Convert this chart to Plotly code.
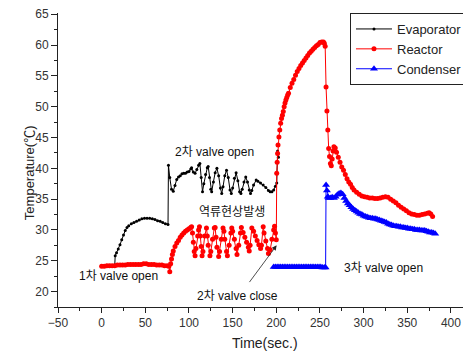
import plotly.graph_objects as go

# ---------------- data ----------------
evap_t = [15, 15.5, 17, 19, 21, 23, 25, 27, 29, 31, 34, 37, 40, 43, 46, 49, 52, 55, 58, 61, 64, 67, 70, 73, 76,
          76.5, 78, 80, 82, 84, 86, 88, 90, 92, 94, 96, 98, 100, 102, 103, 105, 107, 109, 111, 112.5,
          114, 115.5, 117, 119, 121, 122, 123.5, 125, 126, 128, 130, 132, 134, 136, 137.5, 139, 141, 143,
          145, 147, 148.5, 150, 152, 154, 156, 158, 159.5, 161, 163, 165, 167, 169, 170.5, 172, 174, 177,
          179, 182, 185, 188, 191, 193, 195, 197, 199, 200.5, 201.5, 202.5]
evap_v = [24.3, 25.8, 26.3, 26.9, 27.6, 28.4, 29.2, 29.9, 30.4, 30.7, 31.0, 31.2, 31.4, 31.6, 31.8, 31.9, 31.9,
          31.9, 31.8, 31.7, 31.5, 31.4, 31.2, 31.0, 30.9,
          40.5, 38.5, 36.6, 36.3, 37.2, 38.2, 38.6, 38.8, 39.1, 39.2, 39.2, 39.4, 39.5, 39.9, 40.1, 39.4, 39.2,
          39.8, 40.5, 40.8,
          38.5, 36.2, 37.5, 39.0, 40.1, 40.3, 38.5, 36.6, 36.2, 37.8, 39.3, 40.0, 38.8, 36.8, 35.9, 37.0, 38.8,
          39.7, 38.5, 36.5, 35.9, 36.8, 38.4, 39.3, 38.0, 36.2, 35.9, 36.6, 37.8, 38.6, 37.8, 36.5, 35.9, 36.4,
          37.3, 38.1, 37.9, 37.6, 37.3, 36.9, 36.4, 36.2, 36.2, 36.5, 37.1, 37.6, 42.8, 41.8]

reac_t = [0, 3, 6, 9, 12, 15, 18, 21, 24, 27, 30, 33, 36, 39, 42, 45, 48, 51, 54, 57, 60, 63, 66, 69, 72, 75,
          77, 78, 79, 80, 81, 82, 84, 86, 88, 90, 92, 94, 96, 98, 100, 102,
          103, 104, 105, 106, 107, 108, 110, 111, 112, 113, 114, 115, 116, 118, 120, 121, 122, 124, 125, 127,
          129, 130, 131, 132, 134, 135, 137, 139, 140, 141, 143, 144, 146, 148, 149, 150, 152, 154, 155, 157,
          159, 160, 162, 164, 166, 168, 169, 170, 172, 174, 176, 178, 180, 182, 183, 185, 186, 188, 190, 191,
          193, 195, 197, 198, 199, 200,
          200.5, 201, 201.5, 202, 203, 204, 205, 206, 207, 208, 209, 210, 211, 212, 213, 214, 216, 218, 220,
          222, 224, 226, 228, 230, 232, 234, 236, 238, 240, 242, 244, 246, 248, 250, 252, 254, 255, 256,
          257, 258, 259, 260, 261, 262, 263, 264, 265, 266, 267.5, 269, 271, 273, 275, 277, 279, 281, 283,
          285, 287, 289, 292, 295, 298, 301, 304, 307, 310, 313, 316, 319, 322, 325, 328, 331, 334, 337,
          340, 343, 346, 349, 352, 355, 358, 361, 364, 367, 370, 373, 375, 377, 379]
reac_v = [24.1, 24.1, 24.2, 24.2, 24.2, 24.2, 24.3, 24.3, 24.3, 24.3, 24.4, 24.4, 24.4, 24.4, 24.4, 24.4,
          24.5, 24.5, 24.4, 24.4, 24.4, 24.3, 24.3, 24.3, 24.2, 24.2,
          24.1, 23.2, 24.5, 25.3, 26.0, 26.6, 27.3, 27.9, 28.3, 28.8, 29.2, 29.5, 29.8, 30.0, 30.2, 30.4,
          30.5, 29.5, 28.0, 26.5, 25.8, 27.0, 29.0, 30.0, 30.5, 29.0, 27.3, 25.8, 26.5, 29.0, 30.3, 29.0,
          27.5, 25.8, 26.5, 28.5, 30.3, 30.4, 28.8, 27.2, 25.7, 26.5, 28.5, 30.3, 29.8, 28.5, 26.5, 25.8,
          27.5, 29.5, 30.3, 29.8, 28.5, 27.0, 26.0, 27.5, 29.5, 30.4, 29.6, 28.8, 28.0, 27.2, 26.6, 27.5,
          30.3, 29.8, 29.0, 28.3, 27.6, 27.0, 27.5, 30.5, 29.5, 28.2, 27.0, 26.2, 26.8, 28.5, 30.0, 30.6,
          29.5, 28.4,
          39.2, 41.0, 42.4, 43.8, 45.1, 46.2, 47.3, 48.1, 48.6, 49.2, 50.0, 50.6, 51.1, 51.5, 51.9, 52.2,
          53.1, 53.8, 54.4, 55.1, 55.7, 56.2, 56.7, 57.1, 57.5, 57.9, 58.3, 58.7, 59.0, 59.3, 59.6, 59.9,
          60.1, 60.4, 60.5, 60.5, 60.3, 59.8,
          53.2, 49.3, 46.2, 43.2, 41.9, 40.8, 40.4, 41.5, 42.8, 43.5, 43.3, 42.6, 41.8, 41.0, 40.2, 39.7,
          39.0, 38.3, 37.8, 37.4, 36.9, 36.5, 36.1, 35.8, 35.5, 35.4, 35.3, 35.2, 35.2, 35.1, 35.1, 35.2,
          35.3, 35.4, 35.3, 35.0, 34.7, 34.4, 34.0, 33.7, 33.4, 33.1, 32.8, 32.6, 32.5, 32.4, 32.4, 32.5,
          32.6, 32.7, 32.8, 32.6, 32.2]

cond_t = [197, 199, 201, 203, 205, 207, 209, 211, 213, 215, 217, 219, 221, 223, 225, 227, 229, 231, 233, 235,
          237, 239, 241, 243, 245, 247, 249, 251, 253, 255, 256.5,
          257, 258, 259, 260, 262, 264, 266, 268, 270, 272, 274, 276, 278, 280, 282, 284, 286, 288, 290,
          292, 294, 296, 298, 300, 302, 304, 306, 308, 310, 312, 314, 316, 318, 320, 322, 324, 326, 328,
          330, 332, 334, 336, 338, 340, 342, 344, 346, 348, 350, 352, 354, 356, 358, 360, 362, 364, 366,
          368, 370, 372, 374, 376, 378, 380, 382]
cond_v = [24.0, 24.0, 24.0, 24.0, 24.0, 24.0, 24.0, 24.0, 24.0, 24.0, 24.0, 24.0, 24.0, 24.0, 24.0, 24.0,
          24.0, 24.0, 24.0, 24.0, 24.0, 24.0, 24.0, 24.0, 24.0, 24.0, 24.0, 24.0, 23.9, 23.9, 23.9,
          37.3, 36.4, 35.4, 35.2, 35.2, 35.3, 35.2, 35.4, 35.7, 35.9, 36.0, 35.8, 35.2, 34.7, 34.3, 34.0,
          33.7, 33.4, 33.2, 33.0, 32.8, 32.6, 32.5, 32.3, 32.2, 32.1, 32.0, 31.9, 31.9, 31.8, 31.8, 31.7,
          31.6, 31.5, 31.4, 31.3, 31.2, 31.0, 30.9, 30.8, 30.7, 30.6, 30.6, 30.5, 30.5, 30.4, 30.4, 30.3,
          30.3, 30.2, 30.2, 30.1, 30.1, 30.0, 30.0, 30.0, 29.9, 29.9, 29.9, 29.8, 29.7, 29.6, 29.6, 29.5,
          29.4]

x_ticks = [-50, 0, 50, 100, 150, 200, 250, 300, 350, 400]
y_ticks = [20, 25, 30, 35, 40, 45, 50, 55, 60, 65]

FONT = "Arial, 'Liberation Sans', 'Noto Sans CJK KR', sans-serif"

fig = go.Figure()
fig.add_trace(go.Scatter(x=evap_t, y=evap_v, name="Evaporator", mode="lines+markers",
                         line=dict(color="black", width=1),
                         marker=dict(symbol="circle", size=3, color="black")))
fig.add_trace(go.Scatter(x=reac_t, y=reac_v, name="Reactor", mode="lines+markers",
                         line=dict(color="#ff0000", width=1),
                         marker=dict(symbol="circle", size=5, color="#ff0000")))
fig.add_trace(go.Scatter(x=cond_t, y=cond_v, name="Condenser", mode="lines+markers",
                         line=dict(color="#0000ff", width=1),
                         marker=dict(symbol="triangle-up", size=7, color="#0000ff")))

annots = [
    dict(x=129.8, y=42.6, text="2차 valve open"),
    dict(x=149.2, y=32.9, text="역류현상발생"),
    dict(x=19.8, y=22.5, text="1차 valve open"),
    dict(x=156.0, y=19.3, text="2차 valve close"),
    dict(x=323.3, y=23.8, text="3차 valve open"),
]
for a in annots:
    fig.add_annotation(x=a["x"], y=a["y"], text=a["text"], showarrow=False,
                       font=dict(family=FONT, size=12, color="#111"))

# arrow for valve close
fig.add_annotation(x=200.4, y=27.5, ax=168, ay=21.3, axref="x", ayref="y", text="",
                   showarrow=True, arrowhead=2, arrowsize=1.2, arrowwidth=0.8, arrowcolor="#222")

# axis titles
fig.add_annotation(x=0.501, y=-0.122, xref="paper", yref="paper", text="Time(sec.)", showarrow=False,
                   font=dict(family=FONT, size=14, color="#222"), yanchor="middle")
fig.add_annotation(x=-0.092, y=0.457, xref="paper", yref="paper", text="Temperature(℃)", showarrow=False,
                   textangle=-90, font=dict(family=FONT, size=13, color="#222"))

# page body adds an 8px offset, so the figure is sized 8px smaller
fig.update_layout(
    width=463, height=345,
    margin=dict(l=50, r=0, t=5, b=46, autoexpand=False),
    paper_bgcolor="white", plot_bgcolor="white",
    font=dict(family=FONT, size=12, color="#333"),
    showlegend=True,
    legend=dict(x=0.707, xanchor="left", y=1, yanchor="top", bgcolor="white",
                bordercolor="#222", borderwidth=1, font=dict(family=FONT, size=13, color="#222"),
                itemwidth=36, tracegroupgap=0),
)
fig.update_xaxes(range=[-50, 423], tickvals=x_ticks, ticks="outside", ticklen=5, tickcolor="#222",
                 showline=True, linecolor="#222", linewidth=1, showgrid=False, zeroline=False,
                 automargin=False, ticklabeloverflow="allow",
                 minor=dict(tickvals=[-25, 25, 75, 125, 175, 225, 275, 325, 375, 425], ticks="outside",
                            ticklen=3, tickcolor="#222"),
                 tickfont=dict(family=FONT, size=12, color="#333"))
fig.update_yaxes(range=[17.5, 65.2], tickvals=y_ticks, ticks="outside", ticklen=6, tickcolor="#222",
                 showline=True, linecolor="#222", linewidth=1, showgrid=False, zeroline=False,
                 automargin=False, ticklabeloverflow="allow",
                 minor=dict(tickvals=[17.5, 22.5, 27.5, 32.5, 37.5, 42.5, 47.5, 52.5, 57.5, 62.5],
                            ticks="outside", ticklen=3, tickcolor="#222"),
                 tickfont=dict(family=FONT, size=12, color="#333"))

fig.write_html("out.html")
